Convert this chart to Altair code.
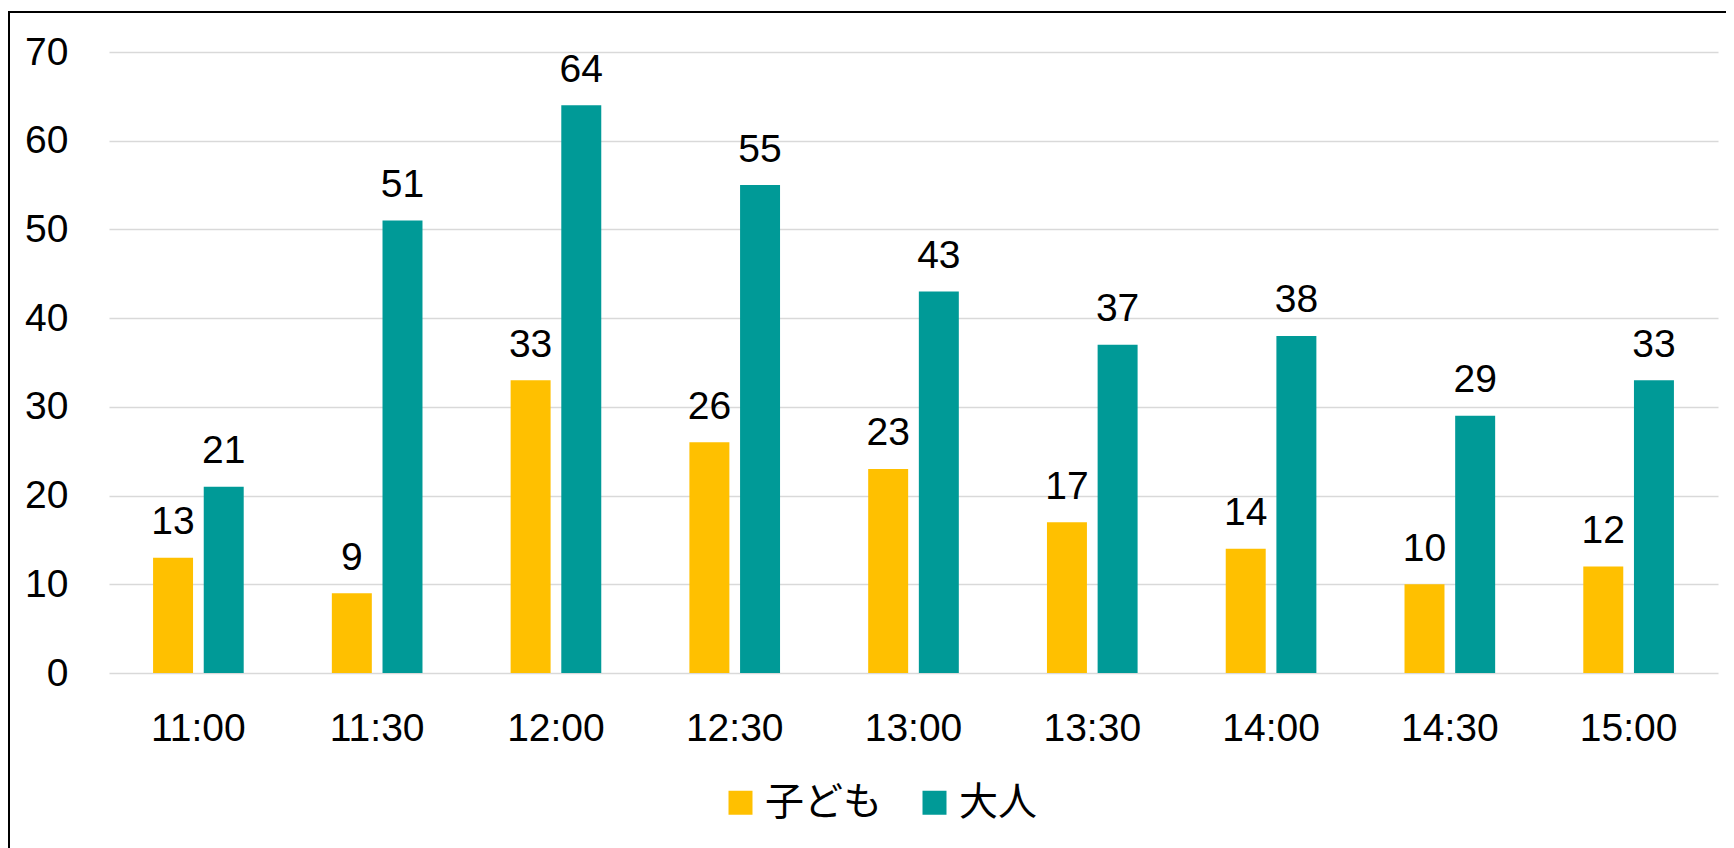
import altair as alt
import pandas as pd

times = ["11:00", "11:30", "12:00", "12:30", "13:00", "13:30", "14:00", "14:30", "15:00"]
children = [13, 9, 33, 26, 23, 17, 14, 10, 12]
adults = [21, 51, 64, 55, 43, 37, 38, 29, 33]
series = ["子ども", "大人"]
colors = ["#FFC000", "#009A97"]
y_ticks = [0, 10, 20, 30, 40, 50, 60, 70]

rows = []
for t, c, a in zip(times, children, adults):
    rows.append({"time": t, "group": series[0], "value": c})
    rows.append({"time": t, "group": series[1], "value": a})
df = pd.DataFrame(rows)

W, H = 1609, 621
NUM_FONT = "Liberation Sans"
JP_FONT = "Noto Sans CJK JP"

x = alt.X(
    "time:N", sort=times, title=None,
    scale=alt.Scale(paddingInner=0.493, paddingOuter=0.2465),
    axis=alt.Axis(labelAngle=0, labelFontSize=39, labelFont=NUM_FONT, labelColor="#000000",
                  labelPadding=36, domain=False, ticks=False, grid=False),
)
xo = alt.XOffset("group:N", sort=series, scale=alt.Scale(paddingInner=0.211, paddingOuter=0))
y = alt.Y(
    "value:Q", title=None,
    scale=alt.Scale(domain=[0, 70], nice=False),
    axis=alt.Axis(values=y_ticks, labelFontSize=39, labelFont=NUM_FONT, labelColor="#000000",
                  labelPadding=41, domain=False, ticks=False, grid=True,
                  gridColor="#D9D9D9", gridWidth=1.5),
)
color = alt.Color(
    "group:N", sort=series,
    scale=alt.Scale(domain=series, range=colors),
    legend=alt.Legend(title=None, orient="none", legendX=612, legendY=731, direction="horizontal",
                      symbolType="square", symbolSize=576, symbolStrokeWidth=0,
                      labelFontSize=39, labelFont=JP_FONT, labelColor="#000000",
                      labelOffset=5, columnPadding=32, padding=0, labelLimit=500),
)

bars = alt.Chart(df).mark_bar().encode(x=x, xOffset=xo, y=y, color=color)
labels = alt.Chart(df).mark_text(
    baseline="alphabetic", dy=-23.5, fontSize=39, font=NUM_FONT, color="#000000"
).encode(x=x, xOffset=xo, y=y, text="value:Q")

frame = alt.Chart(pd.DataFrame({"k": [0]})).mark_rect(
    fillOpacity=0, stroke="#000000", strokeWidth=2
).encode(x=alt.value(-100), x2=alt.value(W + 200), y=alt.value(-40), y2=alt.value(H + 400))

chart = alt.layer(bars, labels, frame).properties(
    width=W, height=H,
    autosize=alt.AutoSizeParams(type="none"),
    padding={"left": 101, "top": 44, "right": 8, "bottom": 180},
    background="white",
).configure_view(strokeWidth=0)

chart.save("out.html", embed_options={"renderer": "svg", "actions": False})
